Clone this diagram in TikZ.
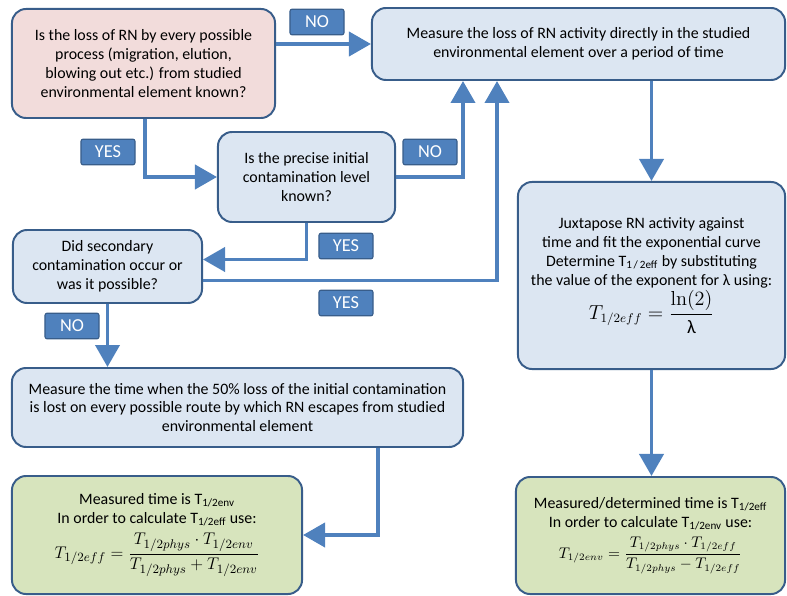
\documentclass[tikz,border=0pt]{standalone}
\usepackage{amsmath}
\usepackage[no-math]{fontspec}
\setmainfont{Carlito}
\usepackage{tikz}
\usetikzlibrary{arrows.meta,calc}
\usepackage{xcolor}
\definecolor{edgeblue}{HTML}{385D8A}
\definecolor{flowblue}{HTML}{4F81BD}
\definecolor{boxblue}{HTML}{DCE6F2}
\definecolor{boxpink}{HTML}{F2DCDB}
\definecolor{boxgreen}{HTML}{D7E4BD}
\tikzset{
  box/.style={draw=edgeblue, fill=boxblue, line width=1.4pt, rounded corners=10pt, align=center, inner sep=3pt, font=\fontsize{11.3}{13.4}\selectfont},
  askbox/.style={box, fill=boxpink},
  resultbox/.style={box, fill=boxgreen},
  arrow/.style={-{Triangle[length=5.5mm,width=6mm]}, line width=2.8pt, draw=flowblue}
}

\begin{document}
\begin{tikzpicture}[x=0.025cm, y=-0.025cm,
  tag/.style={draw=edgeblue, fill=flowblue, rounded corners=1.5pt, text=white, minimum width=1.35cm, minimum height=0.64cm, inner sep=0pt, line width=0.8pt, font=\fontsize{13}{15}\selectfont}]
\useasboundingbox (0,0) rectangle (787,596);
% ---- questions ----
\node[askbox, minimum width=6.575cm, minimum height=2.725cm] (known) at (143.5,63.5) {Is the loss of RN by every possible\\process (migration, elution,\\blowing out etc.) from studied\\environmental element known?};
\node[box, minimum width=4.425cm, minimum height=2.25cm] (initial) at (306.5,177) {Is the precise initial\\contamination level\\known?};
\node[box, minimum width=4.725cm, minimum height=1.825cm] (second) at (107.5,266.5) {Did secondary\\contamination occur or\\was it possible?};
% ---- measurements ----
\node[box, minimum width=10.325cm, minimum height=1.8cm] (direct) at (578.5,44) {Measure the loss of RN activity directly in the studied\\environmental element over a period of time};
\node[box, minimum width=6.675cm, minimum height=4.675cm] (fit) at (651.5,275.5) {Juxtapose RN activity against\\time and fit the exponential curve\\Determine T\textsubscript{1\,/\,2eff} by substituting\\the value of the exponent for λ using:\\[1pt] {\fontsize{13.5}{16}\selectfont $T_{1/2eff}=\dfrac{\ln(2)}{\text{λ}}$}};
\node[box, minimum width=11.275cm, minimum height=1.975cm] (route) at (237.5,407.5) {Measure the time when the 50\% loss of the initial contamination\\is lost on every possible route by which RN escapes from studied\\environmental element};
% ---- results ----
\node[resultbox, minimum width=7.25cm, minimum height=2.95cm] (envres) at (157,535) {Measured time is T\textsubscript{1/2env}\\In order to calculate T\textsubscript{1/2eff} use:\\[4pt] {\fontsize{12.8}{15}\selectfont $T_{1/2eff}=\dfrac{T_{1/2phys}\cdot T_{1/2env}}{T_{1/2phys}+T_{1/2env}}$}};
\node[resultbox, minimum width=6.725cm, minimum height=2.925cm] (effres) at (650.5,535.5) {Measured/determined time is T\textsubscript{1/2eff}\\In order to calculate T\textsubscript{1/2env} use:\\[4pt] {\fontsize{10.5}{12.5}\selectfont $T_{1/2env}=\dfrac{T_{1/2phys}\cdot T_{1/2eff}}{T_{1/2phys}-T_{1/2eff}}$}};
% ---- connectors ----
\draw[arrow] (known.east |- direct.west) -- (direct.west);
\draw[arrow] (known.south -| 145,0) |- (initial.west);
\draw[arrow] (initial.east) -| (direct.south -| 463,0);
\draw[arrow] (initial.south) |- ($(second.east)+(0,-7)$);
\draw[arrow] ($(second.east)+(0,14)$) -| (direct.south -| 497,0);
\draw[arrow] (second.south) -- (second.south |- route.north);
\draw[arrow] (fit.north |- direct.south) -- (fit.north);
\draw[arrow] (fit.south) -- (fit.south |- effres.north);
\draw[arrow] (route.south -| 378,0) |- (envres.east);
% ---- answers ----
\node[tag] (no1) at (317,22) {NO};
\node[tag] (yes1) at (108,152) {YES};
\node[tag] (no2) at (430,152) {NO};
\node[tag] (yes2) at (346,246) {YES};
\node[tag] (yes3) at (346,303) {YES};
\node[tag] (no3) at (72,326) {NO};
\end{tikzpicture}
\end{document}
